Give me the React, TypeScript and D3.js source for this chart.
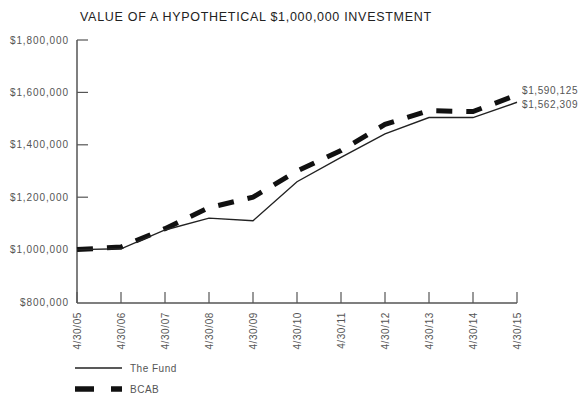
import React from "react";
import * as d3 from "d3";

const dates = ["4/30/05", "4/30/06", "4/30/07", "4/30/08", "4/30/09", "4/30/10", "4/30/11", "4/30/12", "4/30/13", "4/30/14", "4/30/15"];
const fundValues = [1000000, 1003000, 1075000, 1120000, 1110000, 1259000, 1352000, 1442000, 1504000, 1504000, 1562309];
const bcabValues = [1000000, 1010000, 1080000, 1160000, 1200000, 1300000, 1378000, 1478000, 1530000, 1527000, 1590125];
const yTicks = [800000, 1000000, 1200000, 1400000, 1600000, 1800000];
const seriesNames = ["The Fund", "BCAB"];

const W = 581;
const H = 394;
const left = 77;
const right = 517;
const top = 40;
const bottom = 302;
const axisColor = "#555";
const labelColor = "#555";
const font = "'Liberation Sans', Arial, sans-serif";

export default function App() {
  const x = d3.scalePoint<string>().domain(dates).range([left, right]);
  const y = d3.scaleLinear().domain([800000, 1800000]).range([bottom, top]);
  const fmt = (v: number) => "$" + d3.format(",")(v);

  const line = d3
    .line<number>()
    .x((_, i) => x(dates[i]) as number)
    .y((d) => y(d));

  const last = dates.length - 1;

  return (
    <svg
      width={W}
      height={H}
      style={{ position: "absolute", left: 0, top: 0, background: "#fff" }}
      fontFamily={font}
    >
      <text x={80} y={21} fontSize={12.5} letterSpacing={0.7} fill="#222">
        VALUE OF A HYPOTHETICAL $1,000,000 INVESTMENT
      </text>

      {/* y axis */}
      <line x1={left} x2={left} y1={top} y2={bottom + 1} stroke={axisColor} strokeWidth={1.5} />
      {yTicks.map((t) => (
        <g key={t}>
          {t > 800000 && (
            <line x1={left} x2={left + 11} y1={y(t)} y2={y(t)} stroke={axisColor} strokeWidth={1.2} />
          )}
          <text x={69} y={y(t)} dy="0.35em" textAnchor="end" fontSize={10} letterSpacing={0.9} fill={labelColor}>
            {fmt(t)}
          </text>
        </g>
      ))}

      {/* x axis */}
      <line x1={left} x2={right} y1={bottom + 1} y2={bottom + 1} stroke={axisColor} strokeWidth={1.5} />
      {dates.map((d) => (
        <g key={d}>
          <line x1={x(d)} x2={x(d)} y1={bottom + 1} y2={bottom - 10} stroke={axisColor} strokeWidth={1.2} />
          <text
            transform={`translate(${(x(d) as number) + 3.5},${bottom + 10}) rotate(-90)`}
            textAnchor="end"
            fontSize={10}
            letterSpacing={0.6}
            fill={labelColor}
          >
            {d}
          </text>
        </g>
      ))}

      {/* series */}
      <path d={line(bcabValues) || ""} fill="none" stroke="#111" strokeWidth={5} strokeDasharray="16,14" />
      <path d={line(fundValues) || ""} fill="none" stroke="#222" strokeWidth={1.4} />

      <text x={right + 5} y={y(bcabValues[last]) - 4} dy="0.35em" fontSize={10} letterSpacing={0.6} fill={labelColor}>
        {fmt(bcabValues[last])}
      </text>
      <text x={right + 5} y={y(fundValues[last]) + 2} dy="0.35em" fontSize={10} letterSpacing={0.6} fill={labelColor}>
        {fmt(fundValues[last])}
      </text>

      {/* legend */}
      <line x1={left - 2} x2={left + 45} y1={368} y2={368} stroke="#222" strokeWidth={1.4} />
      <text x={130} y={368} dy="0.35em" fontSize={10} letterSpacing={0.5} fill={labelColor}>
        {seriesNames[0]}
      </text>
      <line x1={left - 2} x2={left + 45} y1={389} y2={389} stroke="#111" strokeWidth={5.5} strokeDasharray="19,17" />
      <text x={130} y={389} dy="0.35em" fontSize={10} letterSpacing={0.5} fill={labelColor}>
        {seriesNames[1]}
      </text>
    </svg>
  );
}
